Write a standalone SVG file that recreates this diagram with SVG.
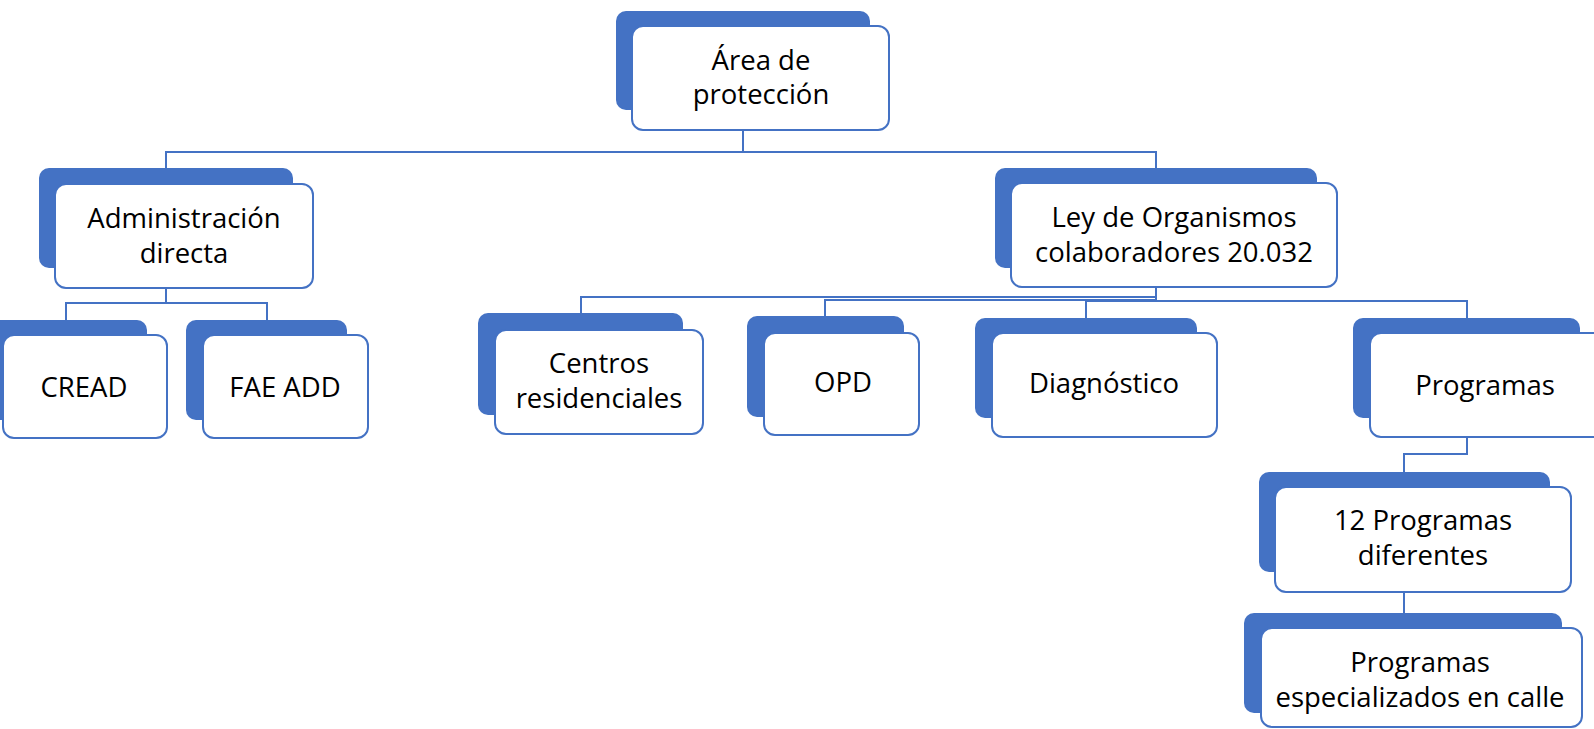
<svg xmlns="http://www.w3.org/2000/svg" width="1594" height="729" viewBox="0 0 1594 729">
<defs>
<style>
.bk{fill:#4472C4;stroke:none}
.fr{fill:#ffffff;stroke:#4472C4;stroke-width:2}
.cn{fill:none;stroke:#4472C4;stroke-width:2}
.t{font-family:"Open Sans","Noto Sans","DejaVu Sans",sans-serif;font-size:27.5px;fill:#000000;text-anchor:middle}
</style>
</defs>
<rect width="1594" height="729" fill="#ffffff"/>
<g id="connectors">
<path class="cn" d="M743,130 V152 H166 V168"/>
<path class="cn" d="M743,130 V152 H1156 V168"/>
<path class="cn" d="M166,288 V303 H66 V320"/>
<path class="cn" d="M166,288 V303 H267 V320"/>
<path class="cn" d="M1156,287 V297 H581 V313"/>
<path class="cn" d="M1156,287 V300 H825 V316"/>
<path class="cn" d="M1156,287 V301 H1086 V318"/>
<path class="cn" d="M1156,287 V301 H1467 V318"/>
<path class="cn" d="M1467,437 V454 H1404 V472"/>
<path class="cn" d="M1404,592 V613"/>
</g>
<g id="n-area">
<rect class="bk" x="616" y="11" width="254" height="99" rx="10"/>
<rect class="fr" x="632" y="26" width="257" height="104" rx="11"/>
<text class="t" x="761" y="70">Área de</text>
<text class="t" x="761" y="104">protección</text>
</g>
<g id="n-admin">
<rect class="bk" x="39" y="168" width="254" height="100" rx="10"/>
<rect class="fr" x="55" y="184" width="258" height="104" rx="11"/>
<text class="t" x="184" y="228">Administración</text>
<text class="t" x="184" y="263">directa</text>
</g>
<g id="n-cread">
<rect class="bk" x="-10" y="320" width="157" height="100" rx="10"/>
<rect class="fr" x="3" y="335" width="164" height="103" rx="11"/>
<text class="t" x="84" y="397">CREAD</text>
</g>
<g id="n-fae">
<rect class="bk" x="186" y="320" width="161" height="100" rx="10"/>
<rect class="fr" x="203" y="335" width="165" height="103" rx="11"/>
<text class="t" x="285" y="397">FAE ADD</text>
</g>
<g id="n-ley">
<rect class="bk" x="995" y="168" width="322" height="100" rx="10"/>
<rect class="fr" x="1011" y="183" width="326" height="104" rx="11"/>
<text class="t" x="1174" y="227">Ley de Organismos</text>
<text class="t" x="1174" y="262">colaboradores 20.032</text>
</g>
<g id="n-centros">
<rect class="bk" x="478" y="313" width="205" height="102" rx="10"/>
<rect class="fr" x="495" y="330" width="208" height="104" rx="11"/>
<text class="t" x="599" y="373">Centros</text>
<text class="t" x="599" y="408">residenciales</text>
</g>
<g id="n-opd">
<rect class="bk" x="747" y="316" width="157" height="101" rx="10"/>
<rect class="fr" x="764" y="333" width="155" height="102" rx="11"/>
<text class="t" x="843" y="392">OPD</text>
</g>
<g id="n-diag">
<rect class="bk" x="975" y="318" width="222" height="100" rx="10"/>
<rect class="fr" x="992" y="333" width="225" height="104" rx="11"/>
<text class="t" x="1104" y="393">Diagnóstico</text>
</g>
<g id="n-programas">
<rect class="bk" x="1353" y="318" width="227" height="100" rx="10"/>
<rect class="fr" x="1370" y="333" width="240" height="104" rx="11"/>
<text class="t" x="1485" y="395">Programas</text>
</g>
<g id="n-12prog">
<rect class="bk" x="1259" y="472" width="291" height="100" rx="10"/>
<rect class="fr" x="1275" y="487" width="296" height="105" rx="11"/>
<text class="t" x="1423" y="530">12 Programas</text>
<text class="t" x="1423" y="565">diferentes</text>
</g>
<g id="n-especializados">
<rect class="bk" x="1244" y="613" width="318" height="100" rx="10"/>
<rect class="fr" x="1261" y="628" width="321" height="99" rx="11"/>
<text class="t" x="1420" y="672">Programas</text>
<text class="t" x="1420" y="707">especializados en calle</text>
</g>
</svg>
